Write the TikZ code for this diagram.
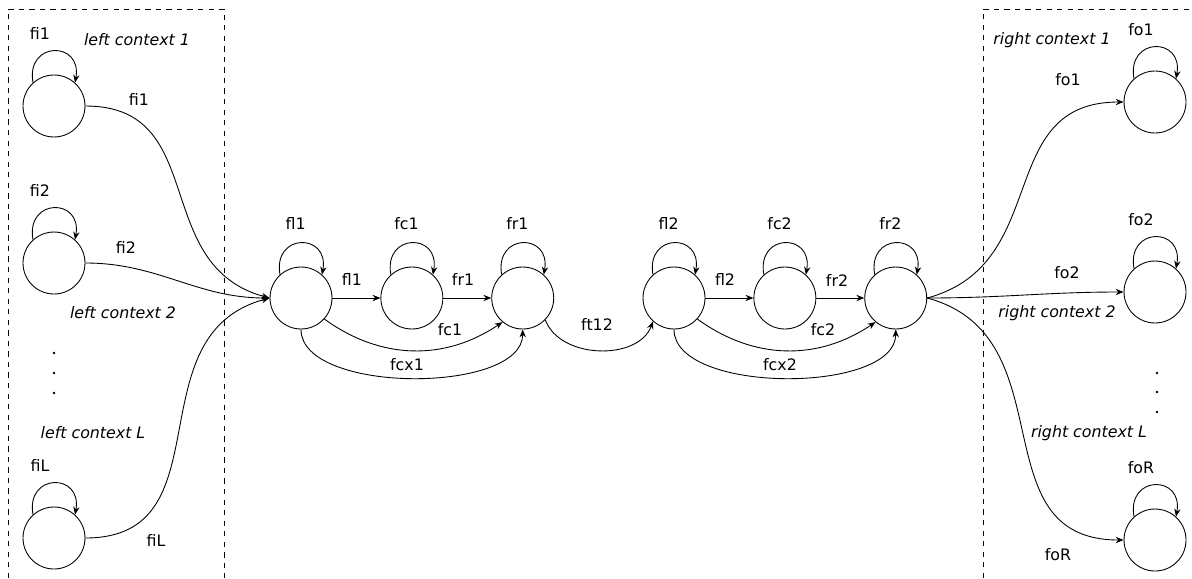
\documentclass[tikz,border=0pt]{standalone}
\usepackage{fontspec}
\setmainfont{DejaVu Sans}
\usetikzlibrary{arrows.meta, positioning}

\begin{document}
\begin{tikzpicture}[x=0.02cm, y=-0.02cm, >={Stealth[length=4.5pt, width=3.6pt]}, line width=0.5pt, font=\fontsize{9}{11}\selectfont]
        % styles
        \tikzstyle{st} = [draw, circle, minimum size=1.24cm, inner sep=0pt]
        \tikzstyle{selfloop} = [->, out=100, in=80, looseness=2.6]
        \tikzstyle{ctx} = [font=\fontsize{9}{11}\selectfont\itshape]
        \tikzstyle{frame} = [draw, dashed, line width=0.4pt]

        \useasboundingbox (0,0) rectangle (1192,578);

        % context boxes
        \draw[frame] (8,578) |- (224,9) -- (224,578);
        \draw[frame] (983,578) |- (1192,9);

        % left context states
        \node[st] (i1) at (54,106) {};
        \node[st] (i2) at (54,263) {};
        \node[st] (iL) at (54,538) {};

        % middle states
        \node[st] (l1) at (301,298) {};
        \node[st, right=0.96cm of l1] (c1) {};
        \node[st, right=0.96cm of c1] (r1) {};
        \node[st] (l2) at (674,298) {};
        \node[st, right=0.96cm of l2] (c2) {};
        \node[st, right=0.96cm of c2] (r2) {};

        % right context states
        \node[st] (o1) at (1155,102) {};
        \node[st] (o2) at (1155,292) {};
        \node[st] (oR) at (1155,540) {};

        % self loops
        \draw[selfloop] (i1.132) to node[above=3pt, xshift=-8] {fi1} (i1.48);
        \draw[selfloop] (i2.132) to node[above=3pt, xshift=-8] {fi2} (i2.48);
        \draw[selfloop] (iL.132) to node[above=3pt, xshift=-8] {fiL} (iL.48);
        \draw[selfloop] (l1.132) to node[above=4pt, xshift=-3] {fl1} (l1.48);
        \draw[selfloop] (c1.132) to node[above=4pt, xshift=-3] {fc1} (c1.48);
        \draw[selfloop] (r1.132) to node[above=4pt, xshift=-3] {fr1} (r1.48);
        \draw[selfloop] (l2.132) to node[above=4pt, xshift=-3] {fl2} (l2.48);
        \draw[selfloop] (c2.132) to node[above=4pt, xshift=-3] {fc2} (c2.48);
        \draw[selfloop] (r2.132) to node[above=4pt, xshift=-3] {fr2} (r2.48);
        \draw[selfloop] (o1.132) to node[above=3pt, xshift=-8] {fo1} (o1.48);
        \draw[selfloop] (o2.132) to node[above=3pt, xshift=-8] {fo2} (o2.48);
        \draw[selfloop] (oR.132) to node[above=3pt, xshift=-8] {foR} (oR.48);

        % left context -> first state
        \draw[->] (i1) to[out=0, in=165, looseness=1.2] (l1.west);
        \draw[->] (i2) to[out=0, in=180] (l1.west);
        \draw[->] (iL) to[out=0, in=195, looseness=1.2] (l1.west);

        % chain
        \draw[->] (l1) -- (c1);
        \draw[->] (c1) -- (r1);
        \draw[->] (l1.-42) to[bend right=35] (r1.-130);
        \draw[->] (l1.south) to[out=-90, in=-90, looseness=0.75] (r1.south);
        \draw[->] (r1.-44) to[out=-70, in=-110] (l2.-132);
        \draw[->] (l2) -- (c2);
        \draw[->] (c2) -- (r2);
        \draw[->] (l2.-42) to[bend right=35] (r2.-130);
        \draw[->] (l2.south) to[out=-90, in=-90, looseness=0.75] (r2.south);

        % last state -> right context
        \draw[->] (r2.east) to[out=15, in=180, looseness=1.2] (o1);
        \draw[->] (r2.east) to[out=0, in=180] (o2);
        \draw[->] (r2.east) to[out=-15, in=180, looseness=1.2] (oR);

        % edge labels
        \node (lbi1) at (139,99) {fi1};
        \node (lbi2) at (126,247) {fi2};
        \node (lbiL) at (156,540) {fiL};
        \node (lbl1) at (352,279) {fl1};
        \node (lbr1) at (463,279) {fr1};
        \node (lbc1) at (450,330) {fc1};
        \node (lbx1) at (407,365) {fcx1};
        \node (lbt12) at (597,324) {ft12};
        \node (lbl2) at (725,279) {fl2};
        \node (lbr2) at (837,280) {fr2};
        \node (lbc2) at (823,330) {fc2};
        \node (lbx2) at (780,365) {fcx2};
        \node (lbo1) at (1068,80) {fo1};
        \node (lbo2) at (1067,273) {fo2};
        \node (lboR) at (1058,555) {foR};

        % context names
        \node[ctx] (lc1) at (137,40) {left context 1};
        \node[ctx] (lc2) at (123,313) {left context 2};
        \node[ctx] (lcL) at (93,433) {left context L};
        \node[ctx] (rc1) at (1052,40) {right context 1};
        \node[ctx] (rc2) at (1057,313) {right context 2};
        \node[ctx] (rcL) at (1089,433) {right context L};

        % dots
        \fill (54,353) circle (1.3);
        \fill (54,373) circle (1.3);
        \fill (54,393) circle (1.3);
        \fill (1157,373) circle (1.3);
        \fill (1157,392) circle (1.3);
        \fill (1157,412) circle (1.3);
\end{tikzpicture}
\end{document}
